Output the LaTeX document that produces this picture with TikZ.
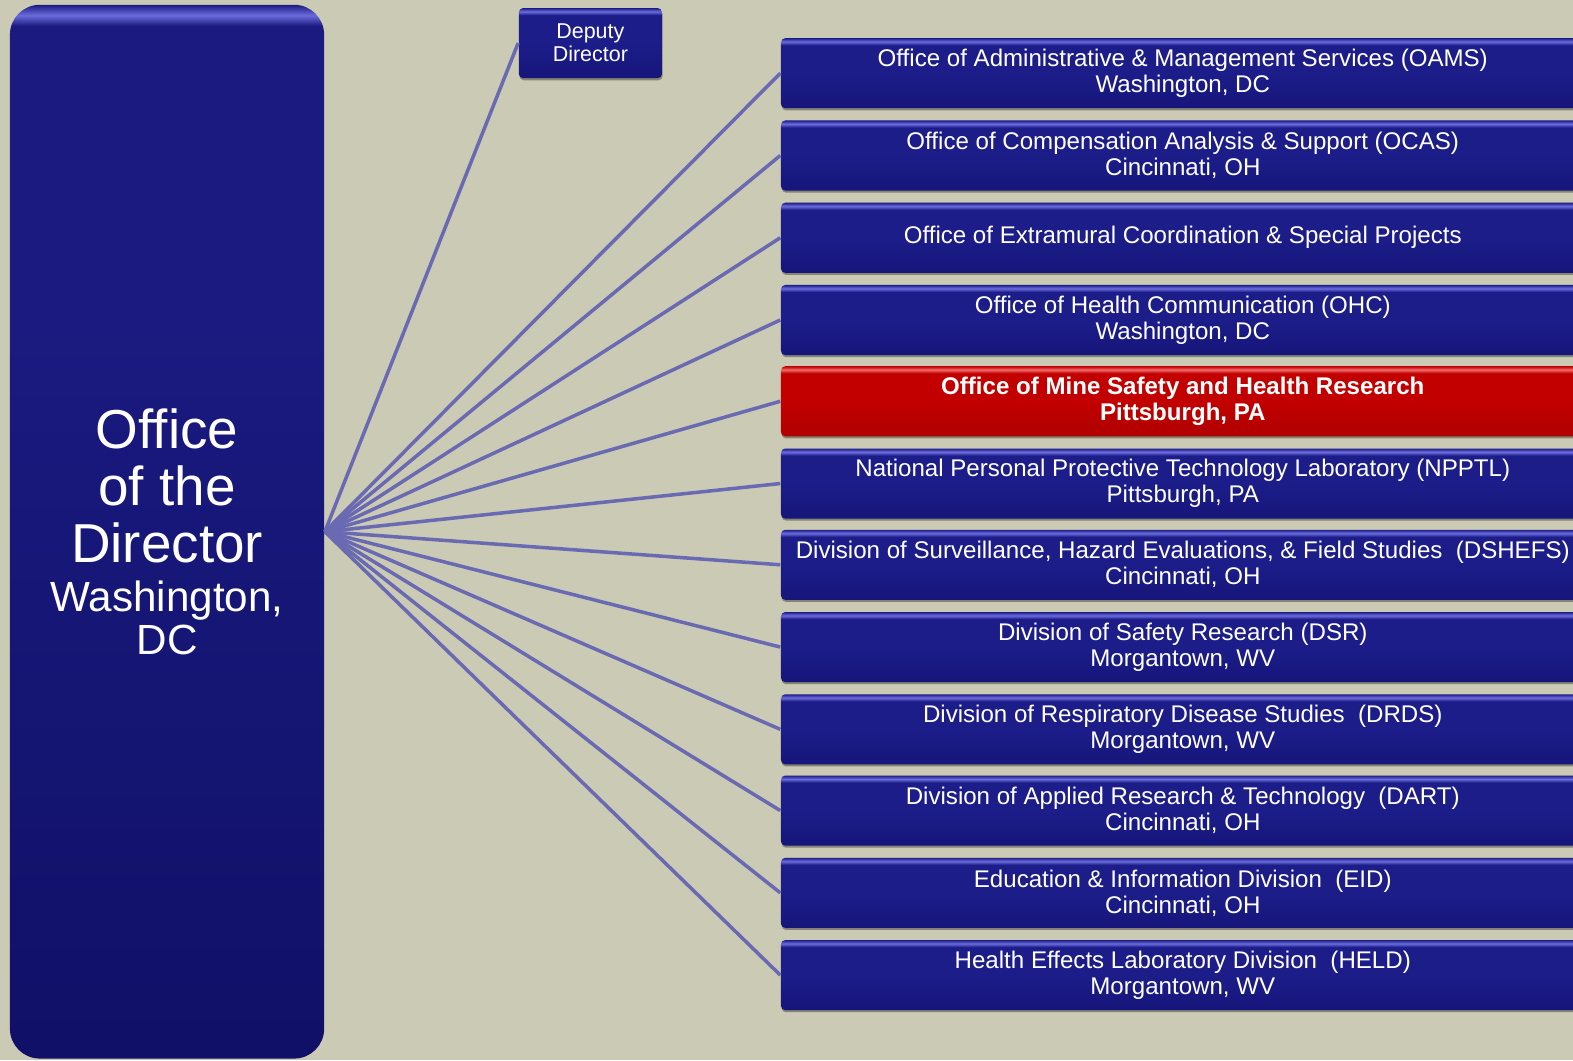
\documentclass[tikz,border=0pt]{standalone}
\usepackage{fontspec}
\setmainfont{Liberation Sans}
\usetikzlibrary{shadows}

\definecolor{paper}{HTML}{CBCAB5}
\definecolor{navy}{HTML}{1D1D8A}
\definecolor{navydark}{HTML}{15157A}
\definecolor{navylight}{HTML}{6C6CDC}
\definecolor{dirtop}{HTML}{1A1A80}
\definecolor{dirbot}{HTML}{101068}
\definecolor{mine}{HTML}{C20000}
\definecolor{minedark}{HTML}{B00000}
\definecolor{minelight}{HTML}{F06A6A}
\definecolor{spoke}{HTML}{6A6AB2}

\pgfdeclareverticalshading{bluegloss}{100bp}{color(0bp)=(navydark); color(25bp)=(navydark); color(50bp)=(navy); color(70bp)=(navy); color(72.5bp)=(navylight); color(75bp)=(navy); color(100bp)=(navy)}
\pgfdeclareverticalshading{redgloss}{100bp}{color(0bp)=(minedark); color(25bp)=(minedark); color(50bp)=(mine); color(70bp)=(mine); color(72.5bp)=(minelight); color(75bp)=(mine); color(100bp)=(mine)}
\pgfdeclareverticalshading{dirgloss}{100bp}{color(0bp)=(dirbot); color(25bp)=(dirbot); color(60bp)=(dirtop); color(74bp)=(dirtop); color(74.5bp)=(navylight); color(75bp)=(dirtop); color(100bp)=(dirtop)}

\tikzset{
  unitbox/.style={rectangle, rounded corners=1.2pt, shading=bluegloss, text=white,
    minimum width=8.03cm, minimum height=0.7cm, inner sep=0pt, align=center,
    font=\fontsize{6.85}{7.4}\selectfont,
    drop shadow={shadow xshift=0.2pt, shadow yshift=-0.6pt, opacity=0.35, fill=black}},
  minebox/.style={unitbox, shading=redgloss, font=\bfseries\fontsize{6.85}{7.4}\selectfont},
  deputybox/.style={unitbox, minimum width=1.43cm, font=\fontsize{6.1}{6.5}\selectfont},
  dirbox/.style={rectangle, rounded corners=8.5pt, shading=dirgloss, text=white,
    minimum width=3.14cm, minimum height=10.53cm, inner sep=0pt, align=center,
    font=\fontsize{15.6}{16.2}\selectfont},
  spoke line/.style={draw=spoke, line width=1pt},
}

\begin{document}
\begin{tikzpicture}[x=0.01003cm, y=-0.01003cm]
  \useasboundingbox[fill=paper] (0,0) rectangle (1568,1057);

  % left column
  \node[dirbox] (dir) at (166.5,530) {Office\\of the\\Director\\[-2.2pt]\fontsize{12}{12.2}\selectfont Washington,\\[-4pt]\fontsize{12}{12.2}\selectfont DC};
  \node[deputybox] (deputy) at (588.5,43) {Deputy\\Director};

  % units
  \node[unitbox] (oams) at (1179,73) {Office of Administrative \& Management Services (OAMS)\\Washington, DC};
  \node[unitbox] (ocas) at (1179,155) {Office of Compensation Analysis \& Support (OCAS)\\Cincinnati, OH};
  \node[unitbox] (oecsp) at (1179,237) {Office of Extramural Coordination \& Special Projects};
  \node[unitbox] (ohc) at (1179,319) {Office of Health Communication (OHC)\\Washington, DC};
  \node[minebox] (omshr) at (1179,400) {Office of Mine Safety and Health Research\\Pittsburgh, PA};
  \node[unitbox] (npptl) at (1179,482) {National Personal Protective Technology Laboratory (NPPTL)\\Pittsburgh, PA};
  \node[unitbox] (dshefs) at (1179,563) {Division of Surveillance, Hazard Evaluations, \& Field Studies~ (DSHEFS)\\Cincinnati, OH};
  \node[unitbox] (dsr) at (1179,645) {Division of Safety Research (DSR)\\Morgantown, WV};
  \node[unitbox] (drds) at (1179,727) {Division of Respiratory Disease Studies~ (DRDS)\\Morgantown, WV};
  \node[unitbox] (dart) at (1179,808) {Division of Applied Research \& Technology~ (DART)\\Cincinnati, OH};
  \node[unitbox] (eid) at (1179,890) {Education \& Information Division~ (EID)\\Cincinnati, OH};
  \node[unitbox] (held) at (1179,972) {Health Effects Laboratory Division~ (HELD)\\Morgantown, WV};

  % spokes
  \draw[spoke line] (dir.east) -- (deputy.west);
  \draw[spoke line] (dir.east) -- (oams.west);
  \draw[spoke line] (dir.east) -- (ocas.west);
  \draw[spoke line] (dir.east) -- (oecsp.west);
  \draw[spoke line] (dir.east) -- (ohc.west);
  \draw[spoke line] (dir.east) -- (omshr.west);
  \draw[spoke line] (dir.east) -- (npptl.west);
  \draw[spoke line] (dir.east) -- (dshefs.west);
  \draw[spoke line] (dir.east) -- (dsr.west);
  \draw[spoke line] (dir.east) -- (drds.west);
  \draw[spoke line] (dir.east) -- (dart.west);
  \draw[spoke line] (dir.east) -- (eid.west);
  \draw[spoke line] (dir.east) -- (held.west);
\end{tikzpicture}
\end{document}
